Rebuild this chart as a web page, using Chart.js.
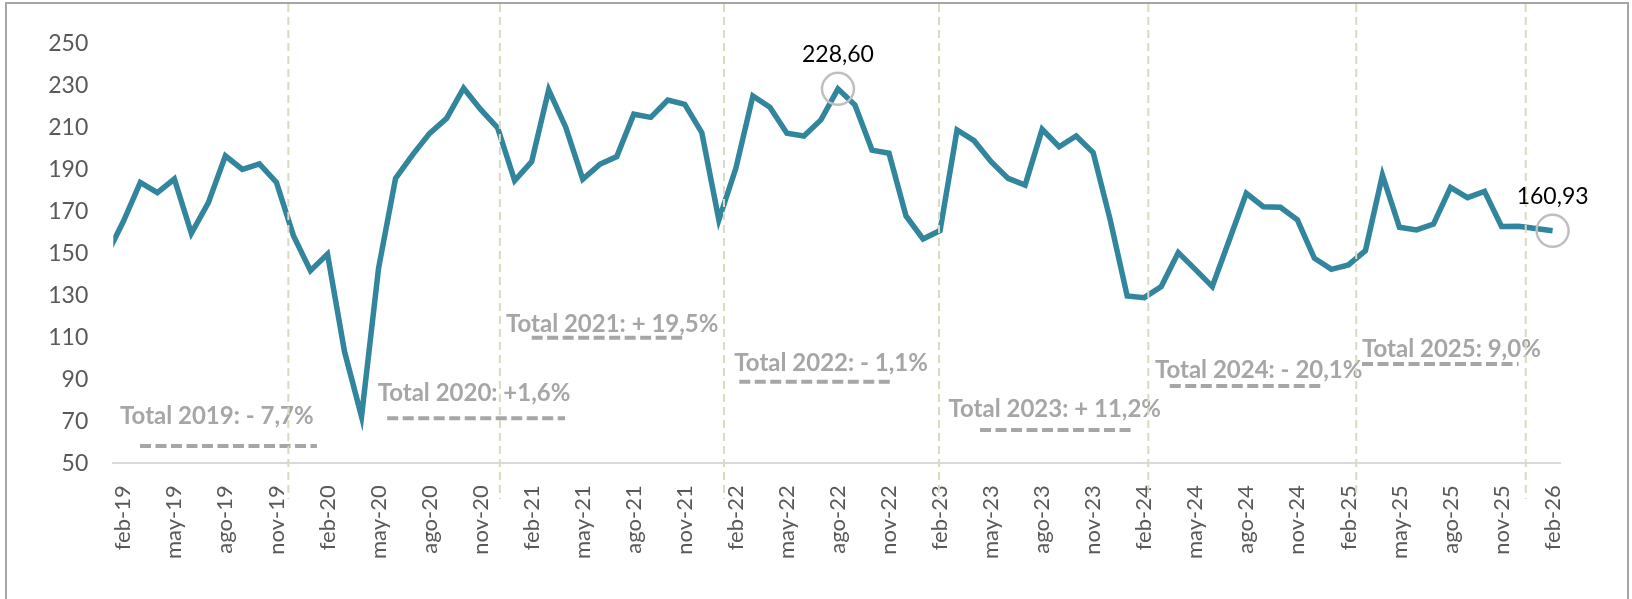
<!DOCTYPE html>
<html>
<head>
<meta charset="utf-8">
<script src="https://cdn.jsdelivr.net/npm/chart.js@4.4.1/dist/chart.umd.min.js"></script>
<style>
  html, body { margin: 0; padding: 0; background: #fff; }
  #wrap { width: 1632px; height: 599px; }
</style>
</head>
<body>
<div id="wrap"><canvas id="priceChart" width="1632" height="599"></canvas></div>
<script>
// months from ene-19 to feb-26 (ene-19 only feeds the clipped first segment)
const monthNames = ['ene', 'feb', 'mar', 'abr', 'may', 'jun', 'jul', 'ago', 'sep', 'oct', 'nov', 'dic'];
const years = ['19', '20', '21', '22', '23', '24', '25', '26'];
const monthLabels = [];
years.forEach(y => monthNames.forEach(m => monthLabels.push(m + '-' + y)));
monthLabels.length = 86;

const values = [
    149.0, 165.3, 184.0, 179.1, 185.6, 159.7, 174.3, 196.7, 190.2, 192.8, 184.0, 158.6,   // 2019
    141.9, 149.8, 103.3, 72.3, 143.0, 185.9, 197.1, 207.4, 214.5, 228.9, 218.8, 210.0,    // 2020
    184.8, 193.9, 228.1, 210.3, 185.5, 192.6, 196.3, 216.5, 215.0, 223.3, 221.2, 207.7,   // 2021
    166.1, 190.7, 225.2, 219.8, 207.4, 206.1, 213.8, 228.6, 220.9, 199.4, 197.9, 168.0,   // 2022
    157.0, 161.0, 209.0, 203.9, 193.9, 185.9, 182.7, 209.3, 201.0, 206.1, 198.2, 166.1,   // 2023
    129.8, 129.0, 134.3, 150.5, 142.5, 134.3, 156.5, 178.8, 172.4, 172.1, 166.1, 147.8,   // 2024
    142.5, 144.6, 151.4, 187.5, 162.6, 161.3, 164.1, 181.6, 176.7, 179.7, 163.0, 163.1,   // 2025
    162.0, 160.93                                                                          // 2026
];

// tick every 3 months starting feb-19
const tickIdx = [];
for (let i = 1; i < monthLabels.length; i += 3) tickIdx.push(i);

// highlighted points (ago-22 and feb-26)
const labelIdx = [43, 85];

// year separators (month index) and yearly totals
const separators = [10.7, 23.13, 36.3, 48.94, 61.24, 73.46, 83.42];
const yearNotes = [
    { text: 'Total 2019: - 7,7%',  tx: 0.81,  ty: 72.2,  x1: 1.98,  x2: 12.38, ly: 58.2 },
    { text: 'Total 2020: +1,6%',   tx: 15.95, ty: 83.4,  x1: 16.51, x2: 26.96, ly: 71.5 },
    { text: 'Total 2021: + 19,5%', tx: 23.49, ty: 116.4, x1: 25.0,  x2: 34.1,  ly: 109.9 },
    { text: 'Total 2022: - 1,1%',  tx: 36.91, ty: 97.7,  x1: 37.2,  x2: 46.3,  ly: 88.9 },
    { text: 'Total 2023: + 11,2%', tx: 49.5,  ty: 75.8,  x1: 51.35, x2: 60.4,  ly: 65.9 },
    { text: 'Total 2024: - 20,1%', tx: 61.63, ty: 94.5,  x1: 62.5,  x2: 71.6,  ly: 86.9 },
    { text: 'Total 2025: 9,0%',    tx: 73.8,  ty: 104.4, x1: 73.8,  x2: 83.0,  ly: 97.4 }
];

const framePlugin = {
    id: 'frame',
    beforeDraw(chart) {
        const ctx = chart.ctx;
        ctx.save();
        ctx.fillStyle = '#fff';
        ctx.fillRect(0, 0, chart.width, chart.height);
        ctx.strokeStyle = '#a6a6a6';
        ctx.lineWidth = 2;
        ctx.strokeRect(6, 3, 1622, 640);
        ctx.restore();
    }
};

const markupPlugin = {
    id: 'markup',
    beforeDatasetsDraw(chart) {
        const { ctx, scales: { x, y } } = chart;
        ctx.save();
        ctx.fillStyle = '#a6a6a6';
        ctx.strokeStyle = '#a6a6a6';
        ctx.font = 'bold 24px Lato';
        ctx.textAlign = 'left';
        ctx.textBaseline = 'middle';
        ctx.lineWidth = 4;
        ctx.setLineDash([11, 4.5]);
        yearNotes.forEach(n => {
            ctx.fillText(n.text, x.getPixelForValue(n.tx), y.getPixelForValue(n.ty));
            const ly = y.getPixelForValue(n.ly);
            ctx.beginPath();
            ctx.moveTo(x.getPixelForValue(n.x1), ly);
            ctx.lineTo(x.getPixelForValue(n.x2), ly);
            ctx.stroke();
        });
        ctx.restore();
    },
    afterDatasetsDraw(chart) {
        const { ctx, scales: { x, y } } = chart;
        ctx.save();
        // dashed year separators
        ctx.strokeStyle = '#ddd8c0';
        ctx.lineWidth = 2;
        ctx.setLineDash([8, 5]);
        separators.forEach(s => {
            const px = x.getPixelForValue(s);
            ctx.beginPath();
            ctx.moveTo(px, 4);
            ctx.lineTo(px, 499);
            ctx.stroke();
        });
        // value labels
        ctx.setLineDash([]);
        ctx.fillStyle = '#000';
        ctx.font = '23px Lato';
        ctx.textAlign = 'center';
        ctx.textBaseline = 'middle';
        labelIdx.forEach(i => {
            const px = x.getPixelForValue(i);
            const py = y.getPixelForValue(values[i]);
            ctx.fillText(values[i].toFixed(2).replace('.', ','), px, py - 34);
        });
        ctx.restore();
    }
};

function drawChart() {
    const ctx = document.getElementById('priceChart').getContext('2d');
    new Chart(ctx, {
        type: 'line',
        data: {
            datasets: [{
                data: values.map((v, i) => ({ x: i, y: v })),
                borderColor: '#31859c',
                borderWidth: 5.5,
                tension: 0,
                pointRadius: values.map((v, i) => labelIdx.includes(i) ? 16 : 0),
                pointHoverRadius: values.map((v, i) => labelIdx.includes(i) ? 16 : 0),
                pointBackgroundColor: 'rgba(0,0,0,0)',
                pointBorderColor: '#bfbfbf',
                pointBorderWidth: 2.5,
                clip: { left: 0, top: false, right: false, bottom: false }
            }]
        },
        options: {
            responsive: false,
            animation: false,
            devicePixelRatio: 1,
            events: [],
            layout: { padding: { left: 0, top: 44, right: 72, bottom: 0 } },
            plugins: { legend: { display: false }, tooltip: { enabled: false } },
            scales: {
                x: {
                    type: 'linear',
                    min: 0.412,
                    max: 85.435,
                    grid: { display: false, drawTicks: false },
                    border: { display: true, color: '#d9d9d9', width: 2 },
                    afterBuildTicks: s => { s.ticks = tickIdx.map(v => ({ value: v })); },
                    afterFit: s => { s.height = 135.7; },
                    ticks: {
                        autoSkip: false,
                        minRotation: 90,
                        maxRotation: 90,
                        padding: 22,
                        color: '#595959',
                        font: { family: 'Lato', size: 22 },
                        callback: v => monthLabels[v]
                    }
                },
                y: {
                    min: 50,
                    max: 250,
                    grid: { display: false, drawTicks: false },
                    border: { display: false },
                    afterFit: s => { s.width = 113.3; },
                    ticks: {
                        stepSize: 20,
                        padding: 25,
                        color: '#595959',
                        font: { family: 'Lato', size: 23 }
                    }
                }
            }
        },
        plugins: [framePlugin, markupPlugin]
    });
}

document.fonts.load('22px Lato').then(drawChart, drawChart);
</script>
</body>
</html>
